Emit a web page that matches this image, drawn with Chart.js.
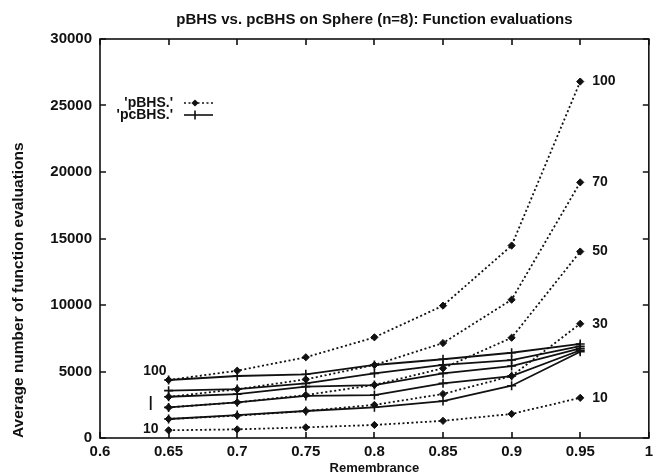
<!DOCTYPE html>
<html>
<head>
<meta charset="utf-8">
<script src="https://cdn.jsdelivr.net/npm/chart.js@4.4.1/dist/chart.umd.min.js"></script>
<style>
    html, body { margin: 0; padding: 0; background: #fff; }
    #wrap { width: 658px; height: 476px; }
</style>
</head>
<body>
<div id="wrap"><canvas id="chart" width="658" height="476"></canvas></div>
<script>
"use strict";

// remembrance values on the x axis
const remembrance = [0.65, 0.7, 0.75, 0.8, 0.85, 0.9, 0.95];
const populations = ['100', '70', '50', '30', '10'];

// pBHS (dotted, diamonds)
const pbhs100 = [4360, 5060, 6070, 7570, 9950, 14470, 26800];
const pbhs70  = [3100, 3660, 4410, 5490, 7140, 10400, 19220];
const pbhs50  = [2300, 2680, 3230, 3990, 5240, 7540, 14020];
const pbhs30  = [1430, 1680, 2030, 2490, 3310, 4660, 8590];
const pbhs10  = [580, 650, 800, 980, 1290, 1810, 3020];

// pcBHS (solid, crosses)
const pcbhs100 = [4360, 4660, 4790, 5490, 5920, 6410, 7070];
const pcbhs70  = [3560, 3680, 4100, 4860, 5500, 5860, 6900];
const pcbhs50  = [3100, 3300, 3860, 3980, 4860, 5410, 6740];
const pcbhs30  = [2300, 2680, 3160, 3230, 4110, 4660, 6600];
const pcbhs10  = [1430, 1720, 2030, 2310, 2780, 3930, 6490];

const xTicks = [0.6, 0.65, 0.7, 0.75, 0.8, 0.85, 0.9, 0.95, 1];
const yTicks = [0, 5000, 10000, 15000, 20000, 25000, 30000];

const pbhs = [pbhs100, pbhs70, pbhs50, pbhs30, pbhs10];
const pcbhs = [pcbhs100, pcbhs70, pcbhs50, pcbhs30, pcbhs10];

const FONT = '"Liberation Sans", Arial, Helvetica, sans-serif';

function points(values) {
    return values.map((v, i) => ({x: remembrance[i], y: v}));
}

let datasets = [];
for (let i in pbhs) {
    datasets.push({
        label: "'pBHS.' " + populations[i],
        data: points(pbhs[i]),
        borderColor: '#111',
        borderWidth: 1.8,
        borderDash: [2, 2.5],
        pointStyle: 'rectRot',
        pointRadius: 3.6,
        pointBackgroundColor: '#111',
        pointBorderColor: '#111',
        pointBorderWidth: 1,
        tension: 0,
    });
}
for (let i in pcbhs) {
    datasets.push({
        label: "'pcBHS.' " + populations[i],
        data: points(pcbhs[i]),
        borderColor: '#111',
        borderWidth: 1.8,
        pointStyle: 'cross',
        pointRadius: 4.5,
        pointBorderColor: '#111',
        pointBorderWidth: 1.6,
        tension: 0,
    });
}

// gnuplot style frame with inward ticks, curve labels and key
const gnuplotDecor = {
    id: 'gnuplotDecor',
    afterDatasetsDraw(chart) {
        const ctx = chart.ctx;
        const a = chart.chartArea;
        const x = chart.scales.x;
        const y = chart.scales.y;
        const tick = 6;

        ctx.save();
        ctx.strokeStyle = '#111';
        ctx.lineWidth = 1.6;
        ctx.strokeRect(a.left, a.top, a.right - a.left, a.bottom - a.top);

        ctx.beginPath();
        for (let v of xTicks) {
            let px = Math.round(x.getPixelForValue(v));
            ctx.moveTo(px, a.bottom);
            ctx.lineTo(px, a.bottom - tick);
            ctx.moveTo(px, a.top);
            ctx.lineTo(px, a.top + tick);
        }
        for (let v of yTicks) {
            let py = Math.round(y.getPixelForValue(v));
            ctx.moveTo(a.left, py);
            ctx.lineTo(a.left + tick, py);
            ctx.moveTo(a.right, py);
            ctx.lineTo(a.right - tick, py);
        }
        ctx.stroke();

        // labels at the right end of the pBHS curves
        ctx.fillStyle = '#111';
        ctx.font = 'bold 14px ' + FONT;
        ctx.textBaseline = 'middle';
        ctx.textAlign = 'left';
        for (let i in pbhs) {
            let last = pbhs[i].length - 1;
            let px = x.getPixelForValue(remembrance[last]);
            let py = y.getPixelForValue(pbhs[i][last]);
            ctx.fillText(populations[i], px + 12, py);
        }

        // labels at the left start
        let x0 = x.getPixelForValue(remembrance[0]);
        let yTop = y.getPixelForValue(pbhs100[0]);
        let yBot = y.getPixelForValue(pbhs10[0]);
        ctx.textAlign = 'right';
        ctx.fillText('100', x0 - 2, yTop - 9);
        ctx.fillText('10', x0 - 10, yBot - 1);
        ctx.textAlign = 'center';
        ctx.fillText('|', x0 - 18, (yTop + yBot) / 2 - 2);

        // key
        let kx = a.left + 73;
        let rows = [
            {text: "'pBHS.'", y: a.top + 64, dash: [2, 2.5], style: 'diamond'},
            {text: "'pcBHS.'", y: a.top + 76, dash: [], style: 'cross'},
        ];
        ctx.textAlign = 'right';
        for (let r of rows) {
            ctx.fillText(r.text, kx, r.y);
            ctx.beginPath();
            ctx.setLineDash(r.dash);
            ctx.lineWidth = 1.6;
            ctx.moveTo(kx + 11, r.y);
            ctx.lineTo(kx + 40, r.y);
            ctx.stroke();
            ctx.setLineDash([]);
            let mx = kx + 22;
            ctx.beginPath();
            if (r.style === 'diamond') {
                ctx.moveTo(mx, r.y - 3.6);
                ctx.lineTo(mx + 3.6, r.y);
                ctx.lineTo(mx, r.y + 3.6);
                ctx.lineTo(mx - 3.6, r.y);
                ctx.closePath();
                ctx.fill();
            } else {
                ctx.moveTo(mx, r.y - 4.5);
                ctx.lineTo(mx, r.y + 4.5);
                ctx.stroke();
            }
        }
        ctx.restore();
    }
};

new Chart(document.getElementById('chart'), {
    type: 'line',
    data: {datasets: datasets},
    plugins: [gnuplotDecor],
    options: {
        responsive: false,
        animation: false,
        devicePixelRatio: 1,
        layout: {padding: {left: 0, right: 6, top: 0, bottom: 0}},
        plugins: {
            legend: {display: false},
            tooltip: {enabled: false},
            title: {
                display: true,
                fullSize: false,
                text: 'pBHS vs. pcBHS on Sphere (n=8): Function evaluations',
                color: '#111',
                font: {family: FONT, size: 15, weight: 'bold'},
                padding: {top: 11, bottom: 10},
            },
        },
        scales: {
            x: {
                type: 'linear',
                min: 0.6,
                max: 1,
                afterBuildTicks: (scale) => { scale.ticks = xTicks.map(v => ({value: v})); },
                afterFit: (scale) => { scale.height = 38; },
                grid: {display: false, drawTicks: false},
                border: {display: false},
                ticks: {
                    color: '#111',
                    padding: 5,
                    maxRotation: 0,
                    autoSkip: false,
                    font: {family: FONT, size: 15, weight: 'bold'},
                    callback: (v) => String(Number(v.toFixed(2))),
                },
                title: {
                    display: true,
                    text: 'Remembrance',
                    color: '#111',
                    font: {family: FONT, size: 13, weight: 'bold'},
                    padding: {top: 0, bottom: 0},
                },
            },
            y: {
                type: 'linear',
                min: 0,
                max: 30000,
                afterBuildTicks: (scale) => { scale.ticks = yTicks.map(v => ({value: v})); },
                afterFit: (scale) => { scale.width = 100; },
                grid: {display: false, drawTicks: false},
                border: {display: false},
                ticks: {
                    color: '#111',
                    padding: 8,
                    font: {family: FONT, size: 15, weight: 'bold'},
                    callback: (v) => String(v),
                },
                title: {
                    display: true,
                    text: 'Average number of function evaluations',
                    align: 'start',
                    color: '#111',
                    font: {family: FONT, size: 15.5, weight: 'bold'},
                    padding: {top: 9, bottom: 0},
                },
            },
        },
    },
});
</script>
</body>
</html>
